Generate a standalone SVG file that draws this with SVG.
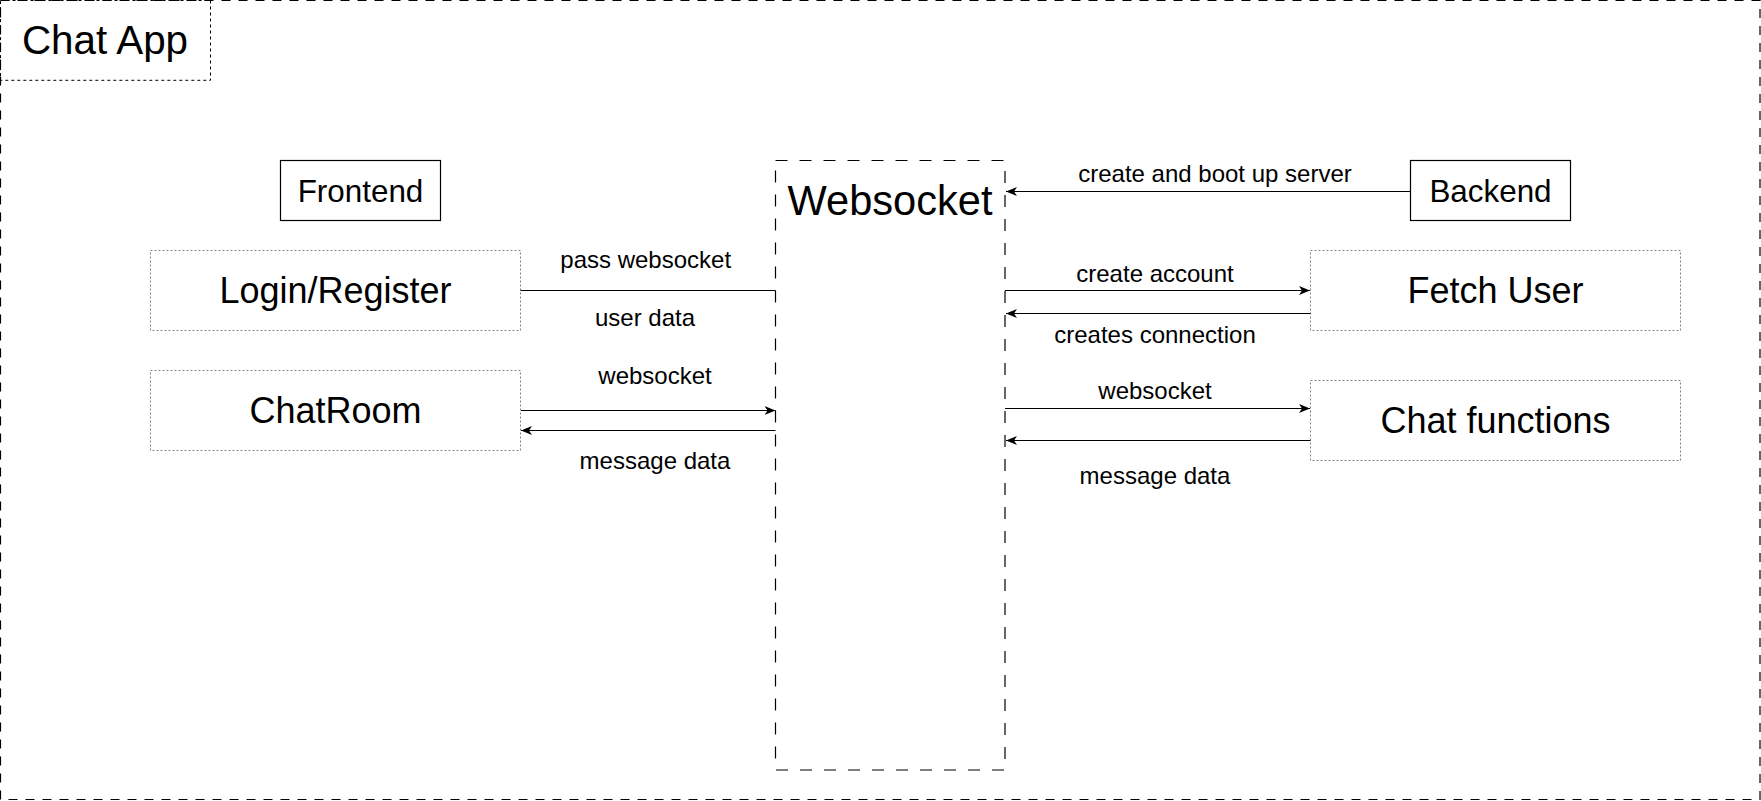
<svg xmlns="http://www.w3.org/2000/svg" width="1761" height="801" viewBox="0 0 1761 801">
<style>
text{font-family:"Liberation Sans",Arial,sans-serif;fill:#000;text-anchor:middle}
.lbl{font-size:24px}
.node{font-size:36px}
.hdr{font-size:31.4px}
.dot{fill:#fff;stroke:#808080;stroke-width:1;stroke-dasharray:2 2}
.solid{fill:#fff;stroke:#000;stroke-width:1.2}
.conn{fill:none;stroke:#000;stroke-width:1.2}
</style>
<defs>
<marker id="arr" markerUnits="userSpaceOnUse" markerWidth="12" markerHeight="10" viewBox="0 0 12 10" refX="11" refY="5" orient="auto">
<path d="M0,0.5 L11,5 L0,9.5 L3,5 Z" fill="#000"/>
</marker>
</defs>
<rect width="1761" height="801" fill="#fff"/>
<g id="chat-app">
<rect x="0.5" y="0.5" width="1759.5" height="799" fill="none" stroke="#000" stroke-width="1.2" stroke-dasharray="9 8"/>
<rect x="0.5" y="0.5" width="210" height="79.8" fill="none" stroke="#000" stroke-width="1" stroke-dasharray="3 3"/>
<text x="105" y="54" style="font-size:40.4px">Chat App</text>
</g>
<g id="websocket">
<rect x="775.5" y="160.5" width="229.5" height="609.5" fill="none" stroke="#000" stroke-width="1.2" stroke-dasharray="12 12"/>
<text x="890" y="215" style="font-size:41.6px">Websocket</text>
</g>
<g id="frontend">
<rect class="solid" x="280.5" y="160.5" width="160" height="60"/>
<text class="hdr" x="360.5" y="201.7">Frontend</text>
</g>
<g id="backend">
<rect class="solid" x="1410.5" y="160.5" width="160" height="60"/>
<text class="hdr" x="1490.5" y="201.7">Backend</text>
</g>
<g id="login-register">
<rect class="dot" x="150.5" y="250.5" width="370" height="80"/>
<text class="node" x="335.5" y="303.3">Login/Register</text>
</g>
<g id="chatroom">
<rect class="dot" x="150.5" y="370.5" width="370" height="80"/>
<text class="node" x="335.5" y="423.3">ChatRoom</text>
</g>
<g id="fetch-user">
<rect class="dot" x="1310.5" y="250.5" width="370" height="80"/>
<text class="node" x="1495.5" y="303.3">Fetch User</text>
</g>
<g id="chat-functions">
<rect class="dot" x="1310.5" y="380.5" width="370" height="80"/>
<text class="node" x="1495.5" y="433.3">Chat functions</text>
</g>
<g id="connectors">
<path class="conn" d="M1410.5,191.5 L1006,191.5" marker-end="url(#arr)"/>
<path class="conn" d="M520.5,290.5 L775.5,290.5"/>
<path class="conn" d="M521,410.5 L775.5,410.5" marker-end="url(#arr)"/>
<path class="conn" d="M775.5,430.5 L521,430.5" marker-end="url(#arr)"/>
<path class="conn" d="M1005,290.5 L1310,290.5" marker-end="url(#arr)"/>
<path class="conn" d="M1310.5,313.5 L1006,313.5" marker-end="url(#arr)"/>
<path class="conn" d="M1005,408.5 L1310,408.5" marker-end="url(#arr)"/>
<path class="conn" d="M1310.5,440.5 L1006,440.5" marker-end="url(#arr)"/>
<text class="lbl" x="1215" y="182">create and boot up server</text>
<text class="lbl" x="645.7" y="267.7">pass websocket</text>
<text class="lbl" x="645" y="326">user data</text>
<text class="lbl" x="655" y="384">websocket</text>
<text class="lbl" x="655" y="469">message data</text>
<text class="lbl" x="1155" y="282">create account</text>
<text class="lbl" x="1155" y="342.7">creates connection</text>
<text class="lbl" x="1155" y="399">websocket</text>
<text class="lbl" x="1155" y="484">message data</text>
</g>
</svg>
